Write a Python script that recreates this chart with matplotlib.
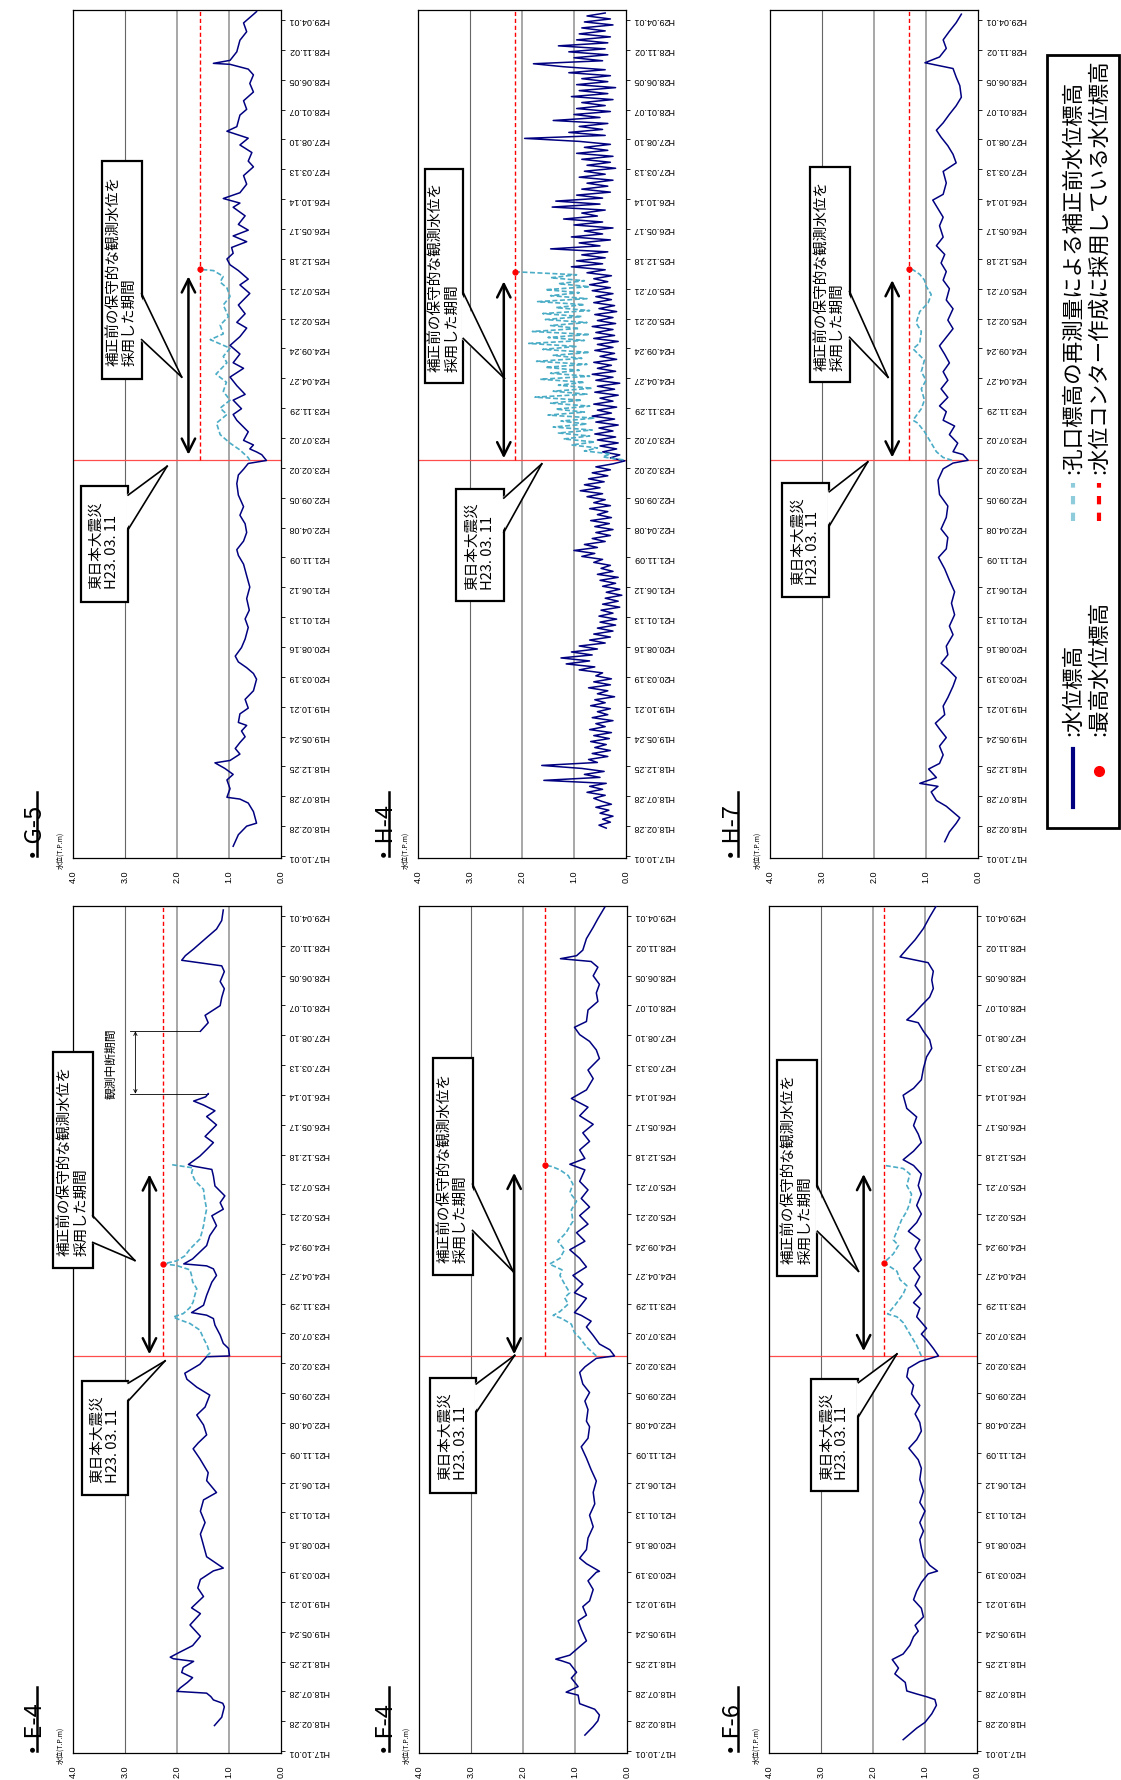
import numpy as np
import matplotlib.pyplot as plt
from matplotlib.patches import Rectangle, Polygon
from matplotlib.lines import Line2D

plt.rcParams['font.family'] = ['Noto Sans CJK JP', 'DejaVu Sans']

W, H = 1121, 1781

# 日付目盛 (H17.10.01 からの経過日数, 150日ごと)
tick_labels = ['H17.10.01', 'H18.02.28', 'H18.07.28', 'H18.12.25', 'H19.05.24', 'H19.10.21',
               'H20.03.19', 'H20.08.16', 'H21.01.13', 'H21.06.12', 'H21.11.09', 'H22.04.08',
               'H22.09.05', 'H23.02.02', 'H23.07.02', 'H23.11.29', 'H24.04.27', 'H24.09.24',
               'H25.02.21', 'H25.07.21', 'H25.12.18', 'H26.05.17', 'H26.10.14', 'H27.03.13',
               'H27.08.10', 'H28.01.07', 'H28.06.05', 'H28.11.02', 'H29.04.01']
tick_days = [150 * i for i in range(len(tick_labels))]
level_ticks = [4.0, 3.0, 2.0, 1.0, 0.0]
level_labels = ['4.0', '3.0', '2.0', '1.0', '0.0']
quake_day = 1987   # H23.03.11
day_top = 4250

# ---- E-4 (日数, 水位) ----
e4_blue = [(128, 1.28), (170, 1.14), (222, 1.09), (240, 1.12), (257, 1.30), (274, 1.35), (291, 1.43),
           (300, 2.00), (317, 1.94), (345, 1.80), (369, 1.70), (395, 1.91), (420, 1.88), (451, 1.68),
           (464, 2.07), (472, 2.13), (498, 1.94), (530, 1.70), (577, 1.55), (634, 1.75), (691, 1.55),
           (720, 1.72), (777, 1.49), (820, 1.60), (863, 1.55), (906, 1.30), (920, 1.11), (977, 1.43),
           (1034, 1.49), (1091, 1.55), (1149, 1.46), (1206, 1.55), (1263, 1.49), (1300, 1.24),
           (1360, 1.43), (1400, 1.40), (1470, 1.56), (1520, 1.69), (1550, 1.59), (1590, 1.43),
           (1640, 1.49), (1690, 1.62), (1730, 1.46), (1790, 1.37), (1830, 1.62), (1870, 1.81),
           (1900, 1.85), (1920, 1.72), (1945, 1.56), (1983, 1.43), (1987, 0.99), (2025, 1.01),
           (2050, 1.11), (2092, 1.17), (2142, 1.27), (2175, 1.30), (2192, 1.43), (2205, 1.72),
           (2242, 1.49), (2292, 1.43), (2358, 1.33), (2392, 1.24), (2425, 1.30), (2440, 1.43),
           (2450, 1.87), (2475, 1.70), (2542, 1.43), (2592, 1.37), (2642, 1.24), (2692, 1.33),
           (2725, 1.11), (2758, 1.17), (2792, 1.08), (2842, 1.27), (2892, 1.30), (2925, 1.33),
           (2942, 1.69), (2950, 1.78), (2992, 1.56), (3025, 1.43), (3060, 1.30), (3091, 1.46),
           (3149, 1.24), (3191, 1.43), (3220, 1.27), (3249, 1.49), (3269, 1.68), (3290, 1.45),
           (3306, 1.40), (3460, np.nan), (3620, 1.55), (3663, 1.40), (3700, 1.46), (3749, 1.17),
           (3790, 1.14), (3834, 1.09), (3870, 1.17), (3920, 1.09), (3949, 1.14), (3977, 1.91),
           (4000, 1.84), (4034, 1.68), (4091, 1.43), (4134, 1.24), (4177, 1.14), (4230, 1.11)]
e4_lblue = [(1987, 1.43), (2000, 1.37), (2040, 1.42), (2075, 1.49), (2117, 1.56), (2150, 1.75),
            (2175, 2.01), (2183, 2.07), (2200, 1.88), (2230, 1.75), (2258, 1.69), (2290, 1.66),
            (2325, 1.62), (2360, 1.70), (2392, 1.72), (2420, 1.75), (2442, 2.01), (2450, 2.26),
            (2465, 2.01), (2490, 1.85), (2525, 1.75), (2575, 1.56), (2610, 1.52), (2642, 1.49),
            (2690, 1.46), (2725, 1.43), (2780, 1.47), (2825, 1.49), (2867, 1.65), (2908, 1.72),
            (2933, 1.69), (2950, 2.13)]
e4_max = (2450, 2.26)

# ---- G-5 ----
g5_blue = [(49, 0.92), (107, 0.82), (150, 0.66), (165, 0.47), (223, 0.53), (266, 0.63), (286, 0.79),
           (295, 1.04), (338, 0.98), (382, 1.04), (410, 0.92), (440, 1.08), (468, 1.27), (480, 0.98),
           (512, 0.79), (540, 0.88), (570, 0.79), (599, 0.69), (628, 0.76), (656, 0.66), (671, 0.82),
           (714, 0.79), (743, 0.63), (787, 0.69), (830, 0.53), (888, 0.47), (917, 0.53), (946, 0.66),
           (975, 0.82), (1004, 0.88), (1047, 0.76), (1090, 0.69), (1148, 0.63), (1191, 0.69),
           (1235, 0.61), (1293, 0.66), (1351, 0.60), (1408, 0.66), (1466, 0.72), (1510, 0.82),
           (1539, 0.85), (1582, 0.72), (1625, 0.66), (1669, 0.69), (1712, 0.79), (1755, 0.72),
           (1813, 0.82), (1871, 0.85), (1914, 0.82), (1943, 0.72), (1972, 0.63), (1987, 0.28),
           (2016, 0.37), (2030, 0.47), (2045, 0.60), (2065, 0.53), (2088, 0.72), (2131, 0.63),
           (2189, 0.85), (2218, 0.92), (2247, 0.76), (2290, 0.92), (2319, 0.69), (2363, 0.85),
           (2406, 0.98), (2450, 0.72), (2478, 0.92), (2522, 0.79), (2565, 0.98), (2609, 0.79),
           (2652, 0.66), (2681, 0.85), (2724, 0.69), (2768, 0.82), (2826, 0.60), (2869, 0.79),
           (2898, 0.63), (2941, 0.82), (2970, 0.98), (2999, 1.04), (3028, 0.92), (3057, 0.95),
           (3086, 0.66), (3115, 0.92), (3144, 0.63), (3173, 0.82), (3216, 0.69), (3259, 0.92),
           (3280, 0.79), (3303, 1.11), (3332, 0.79), (3375, 0.66), (3418, 0.72), (3462, 0.53),
           (3491, 0.63), (3534, 0.56), (3572, 0.79), (3606, 0.63), (3641, 1.04), (3664, 0.85),
           (3722, 0.79), (3751, 0.66), (3794, 0.72), (3838, 0.53), (3881, 0.60), (3924, 0.53),
           (3953, 0.63), (3977, 0.98), (3982, 1.30), (3997, 0.98), (4040, 0.85), (4098, 0.79),
           (4141, 0.66), (4185, 0.72), (4228, 0.53), (4242, 0.47)]
g5_lblue = [(1987, 0.60), (2001, 0.63), (2040, 0.79), (2074, 0.98), (2117, 1.17), (2175, 1.24),
            (2218, 1.04), (2250, 1.17), (2290, 0.98), (2334, 1.11), (2380, 1.05), (2421, 1.25),
            (2478, 1.04), (2510, 1.11), (2551, 0.98), (2594, 1.36), (2623, 1.11), (2667, 1.17),
            (2710, 1.01), (2768, 1.11), (2811, 0.98), (2854, 1.04), (2883, 1.17), (2912, 1.11),
            (2941, 1.30), (2947, 1.555)]
g5_max = (2947, 1.555)

# ---- F-4 ----
f4_blue = [(80, 0.81), (123, 0.65), (152, 0.56), (181, 0.53), (210, 0.62), (238, 0.91), (281, 0.94),
           (296, 1.17), (324, 0.94), (367, 1.07), (396, 0.97), (440, 1.10), (454, 1.26), (462, 1.37),
           (482, 1.10), (525, 0.91), (554, 0.78), (612, 0.88), (655, 0.94), (683, 0.78), (726, 0.85),
           (755, 0.72), (812, 0.65), (856, 0.75), (899, 0.59), (904, 0.53), (942, 0.78), (970, 0.91),
           (1013, 0.78), (1071, 0.75), (1128, 0.65), (1186, 0.72), (1243, 0.62), (1301, 0.65),
           (1358, 0.59), (1415, 0.69), (1473, 0.78), (1530, 0.88), (1573, 0.75), (1631, 0.72),
           (1659, 0.78), (1717, 0.75), (1760, 0.81), (1803, 0.72), (1846, 0.85), (1904, 0.91),
           (1932, 0.81), (1975, 0.59), (1987, 0.24), (2018, 0.33), (2047, 0.53), (2090, 0.65),
           (2133, 0.78), (2162, 0.69), (2191, 0.88), (2205, 1.01), (2234, 0.91), (2277, 0.78),
           (2305, 1.01), (2348, 0.85), (2392, 1.04), (2435, 0.78), (2478, 0.91), (2521, 1.10),
           (2564, 0.81), (2607, 0.97), (2650, 0.75), (2693, 0.91), (2736, 0.72), (2779, 0.88),
           (2822, 0.75), (2865, 0.91), (2923, 0.81), (2951, 1.10), (2980, 0.81), (3023, 0.91),
           (3066, 0.72), (3109, 0.85), (3152, 0.65), (3195, 0.91), (3238, 0.75), (3282, 1.07),
           (3325, 0.78), (3382, 0.65), (3425, 0.75), (3483, 0.53), (3526, 0.59), (3569, 0.72),
           (3603, 0.91), (3640, 1.01), (3669, 0.78), (3727, 0.75), (3770, 0.56), (3813, 0.59),
           (3856, 0.53), (3899, 0.65), (3942, 0.56), (3971, 0.69), (3985, 1.28), (4000, 0.97),
           (4028, 0.85), (4086, 0.78), (4143, 0.65), (4186, 0.56), (4243, 0.43)]
f4_lblue = [(1987, 0.59), (2033, 0.78), (2075, 0.90), (2104, 1.01), (2147, 1.07), (2176, 1.26),
            (2191, 1.42), (2210, 1.29), (2248, 1.13), (2280, 1.20), (2305, 1.10), (2348, 1.20),
            (2392, 1.29), (2420, 1.25), (2449, 1.49), (2478, 1.29), (2521, 1.20), (2564, 1.33),
            (2607, 1.17), (2640, 1.10), (2664, 1.04), (2722, 1.07), (2765, 0.97), (2808, 1.10),
            (2851, 1.04), (2894, 1.13), (2923, 1.29), (2940, 1.45), (2946, 1.57)]
f4_max = (2946, 1.57)

# ---- H-4 (15日ごとの読み取り値) ----
h4_day = np.arange(140, 4236, 15)
h4_lvl = [0.38, 0.52, 0.30, 0.45, 0.25, 0.50, 0.33, 0.58, 0.28, 0.47,
          0.62, 0.40, 0.75, 0.45, 0.70, 0.38, 1.58, 0.50, 0.80, 0.42,
          0.85, 1.62, 0.55, 0.72, 0.35, 0.65, 0.30, 0.60, 0.38, 0.68,
          0.32, 0.62, 0.28, 0.70, 0.40, 0.58, 0.25, 0.65, 0.35, 0.55,
          0.30, 0.68, 0.40, 0.60, 0.22, 0.55, 0.35, 0.72, 0.30, 0.62,
          0.28, 0.58, 0.45, 0.90, 0.60, 1.15, 0.70, 1.25, 0.65, 1.05,
          0.55, 0.90, 0.40, 0.70, 0.30, 0.62, 0.25, 0.55, 0.20, 0.50,
          0.18, 0.52, 0.25, 0.48, 0.12, 0.45, 0.15, 0.40, 0.08, 0.38,
          0.12, 0.45, 0.20, 0.50, 0.15, 0.55, 0.25, 0.48, 0.30, 0.62,
          0.45, 0.85, 0.60, 1.00, 0.55, 0.80, 0.40, 0.65, 0.30, 0.58,
          0.25, 0.60, 0.32, 0.68, 0.28, 0.55, 0.35, 0.70, 0.30, 0.62,
          0.40, 0.75, 0.45, 0.88, 0.50, 0.80, 0.42, 0.72, 0.35, 0.65,
          0.30, 0.58, 0.25, 0.02, 0.30, 0.12, 0.45, 0.18, 0.50, 0.15,
          0.55, 0.20, 0.60, 0.25, 0.52, 0.15, 0.58, 0.22, 0.65, 0.28,
          0.55, 0.18, 0.62, 0.25, 0.50, 0.15, 0.60, 0.22, 0.55, 0.12,
          0.58, 0.25, 0.65, 0.20, 0.55, 0.28, 0.62, 0.18, 0.50, 0.22,
          0.60, 0.25, 0.55, 0.15, 0.62, 0.22, 0.58, 0.25, 0.65, 0.20,
          0.55, 0.25, 0.60, 0.18, 0.52, 0.22, 0.62, 0.28, 0.58, 0.25,
          0.65, 0.30, 0.70, 0.35, 0.62, 0.28, 0.75, 0.40, 1.05, 0.45,
          0.95, 0.40, 0.85, 0.35, 1.45, 0.50, 0.90, 0.30, 1.05, 0.45,
          0.80, 0.25, 1.00, 0.45, 1.20, 0.55, 0.85, 0.40, 1.42, 0.50,
          1.35, 0.45, 0.95, 0.30, 0.85, 0.35, 0.75, 0.25, 0.90, 0.40,
          0.80, 0.20, 0.75, 0.30, 0.85, 0.25, 0.95, 0.35, 0.80, 0.30,
          0.90, 1.95, 0.40, 1.10, 0.45, 0.90, 0.35, 1.40, 0.50, 1.00,
          0.30, 0.95, 0.40, 0.85, 0.25, 1.05, 0.35, 0.90, 0.20, 0.95,
          0.35, 0.85, 0.30, 1.10, 0.40, 1.20, 1.78, 0.45, 1.00, 0.35,
          1.10, 0.40, 1.30, 0.35, 0.95, 0.30, 0.90, 0.40, 0.85, 0.25,
          0.80, 0.30, 0.75, 0.40]
h4_lb_day = np.arange(1990, 2936, 15)
h4_lb_lvl = [0.05, 0.45, 0.30, 0.80, 0.55, 1.05, 0.60, 1.20, 0.70, 1.30,
             0.65, 1.40, 0.75, 1.25, 0.60, 1.50, 0.80, 1.35, 0.70, 1.45,
             0.85, 1.75, 0.75, 1.40, 0.65, 1.30, 0.80, 1.65, 0.70, 1.45,
             0.90, 1.55, 0.75, 1.72, 0.85, 1.40, 0.70, 1.60, 0.95, 1.87,
             0.80, 1.50, 0.70, 1.80, 0.90, 1.45, 0.75, 1.55, 0.85, 1.60,
             0.70, 1.35, 0.80, 1.70, 0.75, 1.45, 0.90, 1.55, 0.70, 1.30,
             0.80, 1.45, 0.95, 2.14]
h4_max = (2935, 2.14)

# ---- F-6 ----
f6_blue = [(57, 1.42), (86, 1.29), (115, 1.16), (144, 1.00), (187, 0.87), (230, 0.78), (259, 0.81),
           (273, 0.97), (287, 1.16), (302, 1.35), (345, 1.38), (388, 1.58), (417, 1.51), (460, 1.63),
           (488, 1.42), (532, 1.29), (575, 1.22), (603, 1.13), (632, 1.19), (675, 1.03), (718, 1.07),
           (761, 1.22), (804, 1.16), (848, 1.07), (891, 0.94), (905, 0.76), (934, 0.91), (977, 1.03),
           (1020, 1.07), (1063, 1.10), (1106, 1.03), (1149, 1.10), (1207, 1.00), (1250, 1.10),
           (1307, 1.03), (1365, 1.10), (1422, 1.07), (1465, 1.13), (1523, 1.31), (1566, 1.16),
           (1609, 1.07), (1652, 1.10), (1695, 1.19), (1738, 1.10), (1796, 1.26), (1839, 1.22),
           (1882, 1.35), (1925, 1.32), (1959, 1.10), (1987, 0.74), (2025, 0.84), (2069, 0.97),
           (2097, 1.07), (2126, 0.97), (2184, 1.16), (2227, 1.10), (2255, 1.22), (2298, 1.07),
           (2341, 1.19), (2385, 1.10), (2428, 1.22), (2471, 1.07), (2528, 1.19), (2571, 1.10),
           (2614, 1.32), (2658, 1.16), (2701, 1.07), (2744, 1.16), (2801, 1.07), (2844, 1.13),
           (2902, 1.07), (2945, 1.22), (2974, 1.42), (3017, 1.22), (3060, 1.07), (3103, 1.13),
           (3146, 1.22), (3189, 1.16), (3232, 1.35), (3298, 1.42), (3333, 1.22), (3376, 1.07),
           (3433, 1.03), (3491, 0.97), (3534, 0.87), (3577, 0.91), (3620, 1.03), (3663, 1.13),
           (3677, 1.35), (3706, 1.22), (3749, 1.07), (3792, 0.91), (3835, 0.84), (3878, 0.87),
           (3922, 0.84), (3965, 0.94), (3994, 1.48), (4051, 1.29), (4080, 1.19), (4137, 1.03),
           (4195, 0.91), (4252, 0.78)]
f6_lblue = [(1987, 1.07), (2040, 1.16), (2097, 1.29), (2155, 1.42), (2184, 1.54), (2198, 1.72),
            (2241, 1.58), (2298, 1.42), (2341, 1.35), (2370, 1.48), (2413, 1.54), (2456, 1.79),
            (2500, 1.61), (2543, 1.51), (2571, 1.61), (2614, 1.54), (2672, 1.45), (2715, 1.35),
            (2758, 1.29), (2801, 1.26), (2844, 1.35), (2902, 1.29), (2930, 1.42), (2945, 1.77)]
f6_max = (2456, 1.79)

# ---- H-7 ----
h7_blue = [(72, 0.64), (121, 0.55), (164, 0.42), (192, 0.35), (221, 0.48), (250, 0.61), (279, 0.80),
           (322, 0.90), (350, 0.77), (365, 1.12), (394, 0.80), (437, 0.95), (465, 0.74), (508, 0.67),
           (552, 0.74), (595, 0.61), (638, 0.74), (667, 0.82), (710, 0.64), (753, 0.67), (796, 0.58),
           (853, 0.48), (896, 0.42), (939, 0.58), (968, 0.71), (1011, 0.58), (1054, 0.61),
           (1112, 0.48), (1155, 0.55), (1212, 0.45), (1270, 0.51), (1327, 0.45), (1385, 0.55),
           (1442, 0.64), (1500, 0.76), (1543, 0.61), (1600, 0.58), (1643, 0.71), (1701, 0.61),
           (1758, 0.58), (1816, 0.74), (1888, 0.77), (1945, 0.67), (1974, 0.48), (1988, 0.19),
           (2017, 0.29), (2031, 0.48), (2074, 0.39), (2117, 0.55), (2160, 0.45), (2189, 0.67),
           (2232, 0.61), (2261, 0.74), (2304, 0.58), (2347, 0.71), (2390, 0.58), (2433, 0.67),
           (2477, 0.55), (2520, 0.64), (2563, 0.74), (2606, 0.61), (2649, 0.48), (2692, 0.58),
           (2749, 0.48), (2793, 0.61), (2850, 0.55), (2893, 0.67), (2936, 0.61), (2979, 0.71),
           (3022, 0.64), (3066, 0.80), (3109, 0.67), (3166, 0.74), (3209, 0.67), (3295, 0.87),
           (3324, 0.67), (3381, 0.61), (3439, 0.67), (3482, 0.42), (3525, 0.48), (3568, 0.58),
           (3611, 0.71), (3646, 0.80), (3683, 0.67), (3726, 0.55), (3769, 0.42), (3812, 0.32),
           (3870, 0.35), (3913, 0.42), (3956, 0.48), (3985, 1.02), (4014, 0.74), (4057, 0.61),
           (4100, 0.67), (4143, 0.55), (4186, 0.42), (4229, 0.32)]
h7_lblue = [(1988, 0.50), (2002, 0.67), (2031, 0.80), (2088, 0.93), (2132, 1.03), (2175, 1.16),
            (2189, 1.25), (2247, 1.09), (2290, 1.03), (2347, 1.09), (2390, 1.00), (2433, 1.09),
            (2491, 1.03), (2548, 1.25), (2577, 1.12), (2635, 1.09), (2678, 1.19), (2735, 1.12),
            (2778, 0.96), (2821, 0.90), (2864, 1.00), (2893, 1.03), (2922, 1.12), (2945, 1.25),
            (2951, 1.32)]
h7_max = (2951, 1.32)

NAVY = '#000080'
LBLUE = '#4bacc6'
NUM_FONT = 'Liberation Sans'


def fx(x):
    return x / W


def fy(y):
    return 1 - y / H


# 吹き出し付きの枠
def draw_callout(ax, box, tail, text):
    hi, lo, d0, d1 = box
    ax.add_patch(Rectangle((lo, d0), hi - lo, d1 - d0, fc='white', ec='black', lw=1.6,
                           zorder=6, clip_on=False))
    b0, b1, tl, td = tail
    ax.add_patch(Polygon([(lo + 0.04, b0), (lo + 0.04, b1), (tl, td)], closed=True,
                         fc='white', ec='none', zorder=7, clip_on=False))
    for b in (b0, b1):
        ax.plot([lo, tl], [b, td], color='black', lw=1.2, zorder=8, clip_on=False)
    ax.text((hi + lo) / 2, (d0 + d1) / 2, text, rotation=90, ha='center', va='center',
            multialignment='left', fontsize=10.5, linespacing=1.15, zorder=9)


def draw_panel(fig, name, pos, blue, lblue, vmax, lay):
    x0, y0, x1, y1 = pos
    ax = fig.add_axes([fx(x0), fy(y1), (x1 - x0) / W, (y1 - y0) / H])
    ax.set_xlim(4.0, 0.0)
    ax.set_ylim(-10, day_top)

    # 目盛線
    ax.axvline(3.0, color='#666666', lw=0.8, zorder=1)
    ax.axvline(2.0, color='#a0a0a0', lw=1.3, zorder=1)
    ax.axvline(1.0, color='#a0a0a0', lw=1.3, zorder=1)
    ax.axhline(quake_day, color='#ff4d4d', lw=0.9, zorder=2)

    b = np.array(blue, dtype=float)
    ax.plot(b[:, 1], b[:, 0], color=NAVY, lw=1.1, zorder=3)
    lb = np.array(lblue, dtype=float)
    ax.plot(lb[:, 1], lb[:, 0], color=LBLUE, lw=1.2, ls=(0, (3, 1.5)), zorder=4)

    # 水位コンター作成に採用している水位
    ax.plot([vmax[1], vmax[1]], [quake_day, day_top], color='red', lw=1.0, ls=(0, (3, 2)), zorder=4)
    ax.plot(vmax[1], vmax[0], 'o', color='red', ms=3.5, zorder=5)

    al, a0, a1 = lay['arrow']
    ax.annotate('', xy=(al, a1), xytext=(al, a0), zorder=5,
                arrowprops=dict(arrowstyle='<->,head_length=0.6,head_width=0.3', lw=1.8,
                                color='black', shrinkA=0, shrinkB=0, mutation_scale=16))
    draw_callout(ax, lay['hosei'], lay['hosei_tail'], '補正前の保守的な観測水位を\n採用した期間')
    draw_callout(ax, lay['quake'], lay['quake_tail'], '東日本大震災\nH23. 03. 11')

    ax.set_xticks(level_ticks)
    ax.set_xticklabels(level_labels, rotation=90, fontsize=6.5, family=NUM_FONT)
    ax.tick_params(axis='x', length=0, pad=8)
    ax.yaxis.tick_right()
    ax.set_yticks(tick_days)
    ax.set_yticklabels(tick_labels, rotation=180, fontsize=6.5, family=NUM_FONT, va='center')
    ax.tick_params(axis='y', direction='out', length=3, width=0.6, pad=2)
    for s in ax.spines.values():
        s.set_linewidth(0.9)

    tx, ty, ux = lay['title']
    fig.text(fx(tx), fy(ty), name, rotation=90, ha='center', va='bottom', fontsize=17)
    fig.add_artist(Line2D([fx(ux), fx(ux)], [fy(ty), fy(ty - 64)], color='black', lw=1.8))
    fig.text(fx(x0 - 13), fy(y1 + 10), '水位(T.P.m)', rotation=90, ha='center', va='bottom',
             fontsize=5)
    return ax


def draw_legend(fig):
    fig.add_artist(Rectangle((fx(1047), fy(829)), (1119 - 1047) / W, (829 - 56) / H,
                             transform=fig.transFigure, fill=False, ec='black', lw=2))
    r1, r2 = 1073, 1099
    fig.add_artist(Line2D([fx(r1), fx(r1)], [fy(808), fy(750)], color=NAVY, lw=3))
    fig.text(fx(r1), fy(736), ':水位標高', rotation=90, ha='center', va='bottom', fontsize=15.5)
    fig.add_artist(Line2D([fx(r1), fx(r1)], [fy(522), fy(484)], color='#8ecbdb', lw=3,
                          ls=(0, (2, 2))))
    fig.text(fx(r1), fy(474), ':孔口標高の再測量による補正前水位標高', rotation=90, ha='center',
             va='bottom', fontsize=15.5)
    fig.add_artist(Line2D([fx(r2)], [fy(772)], marker='o', color='red', ms=7, ls='none'))
    fig.text(fx(r2), fy(736), ':最高水位標高', rotation=90, ha='center', va='bottom', fontsize=15.5)
    fig.add_artist(Line2D([fx(r2), fx(r2)], [fy(522), fy(484)], color='red', lw=3,
                          ls=(0, (2, 2))))
    fig.text(fx(r2), fy(474), ':水位コンター作成に採用している水位標高', rotation=90, ha='center',
             va='bottom', fontsize=15.5)


def main():
    fig = plt.figure(figsize=(W / 100, H / 100), dpi=100)

    ax = draw_panel(fig, '・E-4', (73, 907, 281, 1754), e4_blue, e4_lblue, e4_max, dict(
        hosei=(4.38, 3.62, 2429, 3514), hosei_tail=(2558, 2692, 2.81, 2467),
        quake=(3.83, 2.94, 1286, 1862), quake_tail=(1760, 1850, 2.23, 1962),
        arrow=(2.53, 1995, 2900), title=(26, 1752, 37)))
    # 観測中断期間
    ax.plot([2.9, 1.55], [3620, 3620], color='black', lw=0.6)
    ax.plot([2.9, 1.40], [3306, 3306], color='black', lw=0.6)
    ax.annotate('', xy=(2.80, 3620), xytext=(2.80, 3306),
                arrowprops=dict(arrowstyle='<->', lw=0.6, color='black', shrinkA=0, shrinkB=0,
                                mutation_scale=6))
    ax.text(3.28, 3463, '観測中断期間', rotation=90, ha='center', va='center', fontsize=8.5)

    draw_panel(fig, '・F-4', (419, 907, 627, 1754), f4_blue, f4_lblue, f4_max, dict(
        hosei=(3.73, 2.97, 2392, 3483), hosei_tail=(2618, 2851, 2.19, 2412),
        quake=(3.79, 2.90, 1300, 1875), quake_tail=(1703, 1846, 2.16, 1990),
        arrow=(2.17, 1995, 2908), title=(377, 1752, 389)))

    draw_panel(fig, '・F-6', (769, 907, 977, 1754), f6_blue, f6_lblue, f6_max, dict(
        hosei=(3.84, 3.07, 2390, 3476), hosei_tail=(2614, 2844, 2.28, 2413),
        quake=(3.20, 2.28, 1307, 1873), quake_tail=(1681, 1853, 1.54, 1997),
        arrow=(2.18, 2011, 2902), title=(724, 1752, 738)))

    draw_panel(fig, '・G-5', (73, 11, 281, 859), g5_blue, g5_lblue, g5_max, dict(
        hosei=(3.45, 2.68, 2397, 3491), hosei_tail=(2594, 2825, 1.91, 2406),
        quake=(3.85, 2.94, 1278, 1857), quake_tail=(1640, 1813, 2.19, 1958),
        arrow=(1.78, 2016, 2912), title=(26, 857, 37)))

    h4 = list(zip(h4_day, h4_lvl))
    h4_lb = list(zip(h4_lb_day, h4_lb_lvl))
    draw_panel(fig, '・H-4', (418, 11, 626, 859), h4, h4_lb, h4_max, dict(
        hosei=(3.87, 3.13, 2377, 3452), hosei_tail=(2600, 2830, 2.34, 2400),
        quake=(3.26, 2.35, 1282, 1846), quake_tail=(1626, 1798, 1.62, 1970),
        arrow=(2.35, 1998, 2887), title=(377, 857, 389)))

    draw_panel(fig, '・H-7', (770, 11, 978, 859), h7_blue, h7_lblue, h7_max, dict(
        hosei=(3.24, 2.47, 2382, 3459), hosei_tail=(2606, 2836, 1.73, 2405),
        quake=(3.77, 2.86, 1299, 1873), quake_tail=(1658, 1830, 2.12, 1980),
        arrow=(1.65, 2002, 2893), title=(724, 857, 738)))

    draw_legend(fig)
    fig.savefig('out.png', dpi=100)


if __name__ == '__main__':
    main()
